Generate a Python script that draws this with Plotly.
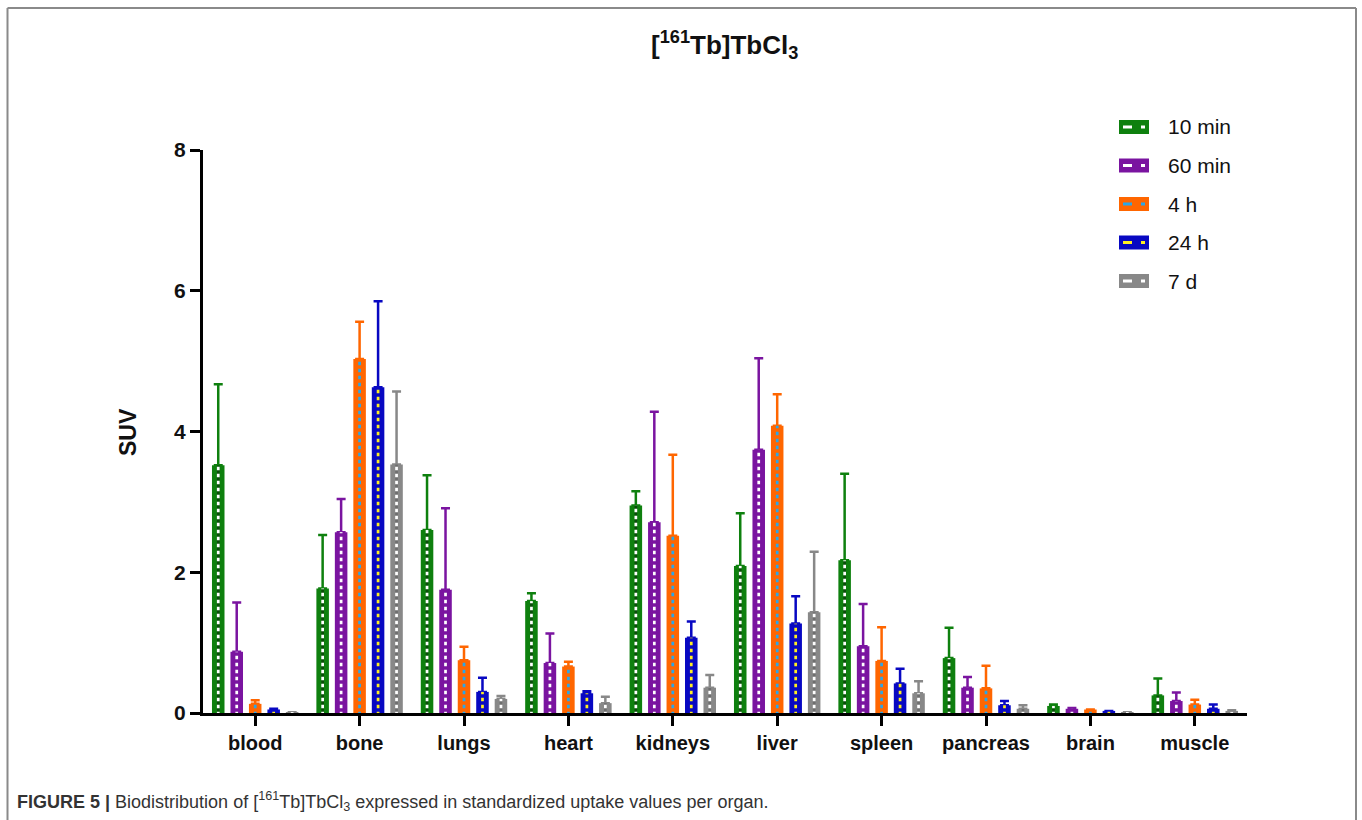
import plotly.graph_objects as go

# Organs on the x axis
organs = ["blood", "bone", "lungs", "heart", "kidneys", "liver",
          "spleen", "pancreas", "brain", "muscle"]

# Time points
time_points = ["10 min", "60 min", "4 h", "24 h", "7 d"]

# Mean SUV per organ for each time point
suv_10min = [3.52, 1.77, 2.60, 1.59, 2.95, 2.09, 2.17, 0.78, 0.10, 0.25]
suv_60min = [0.87, 2.57, 1.75, 0.71, 2.71, 3.74, 0.95, 0.36, 0.06, 0.17]
suv_4h = [0.13, 5.03, 0.75, 0.66, 2.52, 4.08, 0.74, 0.35, 0.05, 0.12]
suv_24h = [0.05, 4.63, 0.30, 0.28, 1.07, 1.27, 0.42, 0.11, 0.03, 0.06]
suv_7d = [0.01, 3.53, 0.20, 0.14, 0.36, 1.43, 0.28, 0.06, 0.01, 0.03]

# Standard deviations (drawn upward only)
sd_10min = [1.15, 0.76, 0.78, 0.11, 0.20, 0.75, 1.23, 0.43, 0.02, 0.24]
sd_60min = [0.70, 0.47, 1.16, 0.42, 1.57, 1.30, 0.60, 0.15, 0.01, 0.12]
sd_4h = [0.05, 0.53, 0.19, 0.07, 1.15, 0.45, 0.48, 0.32, 0.00, 0.07]
sd_24h = [0.01, 1.22, 0.20, 0.03, 0.23, 0.39, 0.21, 0.06, 0.00, 0.06]
sd_7d = [0.00, 1.04, 0.04, 0.09, 0.18, 0.86, 0.17, 0.05, 0.00, 0.01]

means = [suv_10min, suv_60min, suv_4h, suv_24h, suv_7d]
sds = [sd_10min, sd_60min, sd_4h, sd_24h, sd_7d]

# Bar colour, centre-stripe background and stripe foreground per series
bar_colors = ["#0e800e", "#7a14a0", "#ff6600", "#0808c2", "#888888"]
stripe_bg = ["#0a4c0a", "#7a14a0", "#ff6600", "#0808c2", "#6e6e6e"]
stripe_fg = ["#ffffff", "#ffffff", "#2aa6e8", "#ffee22", "#ffffff"]

W, H = 1362, 820
ML, MR, MT, MB = 203, 115, 150, 107
PW, PH = W - ML - MR, H - MT - MB

FONT = "Arial, Liberation Sans, sans-serif"

step = 0.177     # distance between bar centres within a group
bar_w = 0.12     # bar width in category units
stripe_w = 0.026

fig = go.Figure()
for i, name in enumerate(time_points):
    centre = (i - 2) * step
    fig.add_trace(go.Bar(
        x=organs, y=means[i], name=name,
        width=bar_w, offset=centre - bar_w / 2,
        marker=dict(color=bar_colors[i], line=dict(width=0)),
        error_y=dict(type="data", symmetric=False, array=sds[i],
                     arrayminus=[0] * len(organs),
                     color=bar_colors[i], thickness=2.5, width=4.5),
        showlegend=False,
    ))
    # dashed centre stripe inside each bar
    fig.add_trace(go.Bar(
        x=organs, y=means[i],
        width=stripe_w, offset=centre - stripe_w / 2,
        marker=dict(color=stripe_bg[i], line=dict(width=0),
                    pattern=dict(shape="-", fgcolor=stripe_fg[i],
                                 bgcolor=stripe_bg[i], size=7,
                                 solidity=0.5, fillmode="replace")),
        showlegend=False, hoverinfo="skip",
    ))


def px(xp):
    return (xp - ML) / PW


def py(yp):
    return (H - MB - yp) / PH


shapes = []
annotations = []

# legend swatches and labels
for i, name in enumerate(time_points):
    yc = 127 + i * 38.5
    shapes.append(dict(type="rect", xref="paper", yref="paper",
                       x0=px(1119), x1=px(1149), y0=py(yc + 7), y1=py(yc - 7),
                       fillcolor=bar_colors[i], line=dict(width=0)))
    shapes.append(dict(type="line", xref="paper", yref="paper",
                       x0=px(1123), x1=px(1145), y0=py(yc), y1=py(yc),
                       line=dict(color=stripe_fg[i], width=3, dash="dash")))
    annotations.append(dict(text=name, xref="paper", yref="paper",
                            x=px(1166), y=py(yc), xanchor="left", yanchor="middle",
                            showarrow=False,
                            font=dict(family=FONT, size=21, color="#111111")))

# outer frame
frame_col = "#8a8a8a"
shapes.append(dict(type="line", xref="paper", yref="paper",
                   x0=px(7.5), x1=px(1356), y0=py(8), y1=py(8),
                   line=dict(color=frame_col, width=2)))
shapes.append(dict(type="line", xref="paper", yref="paper",
                   x0=px(7.5), x1=px(7.5), y0=py(8), y1=py(822),
                   line=dict(color=frame_col, width=2)))
shapes.append(dict(type="line", xref="paper", yref="paper",
                   x0=px(1356), x1=px(1356), y0=py(8), y1=py(822),
                   line=dict(color=frame_col, width=2)))

# title
annotations.append(dict(text="[<sup>161</sup>Tb]TbCl<sub>3</sub>",
                        xref="paper", yref="paper", x=px(724), y=py(45),
                        xanchor="center", yanchor="middle", showarrow=False,
                        font=dict(family=FONT, size=26, color="#111111",
                                  weight="bold")))
# y axis title
annotations.append(dict(text="SUV", xref="paper", yref="paper",
                        x=px(128), y=py(432), textangle=-90,
                        xanchor="center", yanchor="middle", showarrow=False,
                        font=dict(family=FONT, size=23, color="#111111",
                                  weight="bold")))
# caption
annotations.append(dict(
    text="<b>FIGURE 5 |</b> Biodistribution of [<sup>161</sup>Tb]TbCl<sub>3</sub> "
         "expressed in standardized uptake values per organ.",
    xref="paper", yref="paper", x=px(15), y=py(801),
    xanchor="left", yanchor="middle", showarrow=False,
    font=dict(family="Liberation Sans Narrow, Arial Narrow, " + FONT,
              size=18, color="#333333")))

axis_font = dict(family=FONT, size=20, color="#111111", weight="bold")

fig.update_layout(
    width=W, height=H, autosize=False,
    margin=dict(l=ML, r=MR, t=MT, b=MB, pad=0),
    paper_bgcolor="white", plot_bgcolor="white",
    barmode="overlay",
    shapes=shapes, annotations=annotations,
    font=dict(family=FONT, color="#111111"),
    xaxis=dict(type="category", range=[-0.5, 9.5], showgrid=False,
               showline=True, linecolor="black", linewidth=3,
               ticks="outside", ticklen=10, tickwidth=3, tickcolor="black",
               tickfont=axis_font, zeroline=False),
    yaxis=dict(range=[0, 8], tickvals=[0, 2, 4, 6, 8], showgrid=False,
               showline=True, linecolor="black", linewidth=3,
               ticks="outside", ticklen=10, tickwidth=3, tickcolor="black",
               tickfont=dict(family=FONT, size=21, color="#111111",
                             weight="bold"),
               zeroline=False),
)

fig.write_html("out.html")
